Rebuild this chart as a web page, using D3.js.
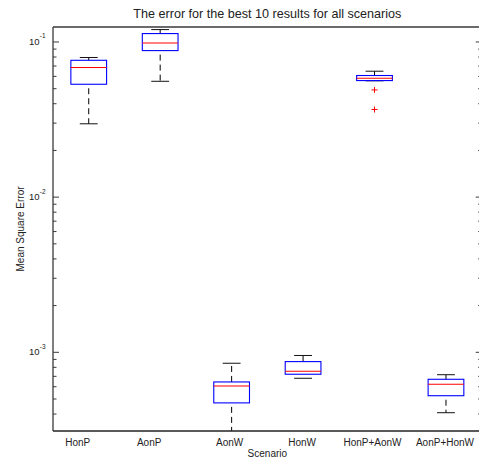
<!DOCTYPE html>
<html>
<head>
<meta charset="utf-8">
<script src="https://cdn.jsdelivr.net/npm/d3@7"></script>
<style>
  html, body { margin: 0; padding: 0; background: #fff; }
  svg { display: block; font-family: "Liberation Sans", Arial, Helvetica, sans-serif; }
</style>
</head>
<body>
<svg id="chart" width="479" height="459"></svg>
<script>
// ---- data ----
const categories   = ["HonP", "AonP", "AonW", "HonW", "HonP+AonW", "AonP+HonW"];
const lowerWhisker = [0.0297, 0.0558, 2.8e-4, 6.80e-4, 0.0562, 4.08e-4];
const q1Values     = [0.0534, 0.0880, 4.72e-4, 7.22e-4, 0.0564, 5.25e-4];
const medians      = [0.0684, 0.0985, 6.07e-4, 7.54e-4, 0.0584, 6.22e-4];
const q3Values     = [0.0762, 0.1133, 6.44e-4, 8.71e-4, 0.0608, 6.70e-4];
const upperWhisker = [0.0794, 0.1202, 8.50e-4, 9.54e-4, 0.0648, 7.17e-4];
const outliers     = [[], [], [], [], [0.0491, 0.0367], []];
const majorTickExponents = [-3, -2, -1];
const titleText = "The error for the best 10 results for all scenarios";
const xLabelText = "Scenario";
const yLabelText = "Mean Square Error";

// ---- layout ----
const W = 479, H = 459;
const plotLeft = 53, plotRight = 481.7, plotTop = 27, plotBottom = 431;
const axisColor = "#3a3a3a";

const svg = d3.select("#chart");
svg.append("rect").attr("width", W).attr("height", H).attr("fill", "#fff");

const x = d3.scaleLinear().domain([0.5, categories.length + 0.5]).range([plotLeft, plotRight]);
const y = d3.scaleLog().domain([3.11e-4, 0.1249]).range([plotBottom, plotTop]);

svg.append("defs").append("clipPath").attr("id", "plotclip")
  .append("rect").attr("x", plotLeft).attr("y", plotTop)
  .attr("width", plotRight - plotLeft).attr("height", plotBottom - plotTop);

// ---- ticks (log major + minor, inward on left and right) ----
const [d0, d1] = y.domain();
const ticks = [];
for (let e = Math.floor(Math.log10(d0)); e <= Math.ceil(Math.log10(d1)); e++) {
  for (let k = 1; k <= 9; k++) {
    const v = k * Math.pow(10, e);
    if (v >= d0 && v <= d1) ticks.push({ v, major: k === 1 });
  }
}
const tickG = svg.append("g");
ticks.forEach(t => {
  const len = t.major ? 6 : 3.5;
  const yy = y(t.v);
  tickG.append("line").attr("x1", plotLeft).attr("x2", plotLeft + len)
    .attr("y1", yy).attr("y2", yy).attr("stroke", axisColor).attr("stroke-width", 1);
  tickG.append("line").attr("x1", plotRight).attr("x2", plotRight - len)
    .attr("y1", yy).attr("y2", yy).attr("stroke", axisColor).attr("stroke-width", 1);
});

// major tick labels 10^n
majorTickExponents.forEach(e => {
  const yy = y(Math.pow(10, e));
  svg.append("text").attr("x", 39.5).attr("y", yy + 3.2)
    .attr("text-anchor", "end").attr("font-size", 9.5).attr("fill", "#222").text("10");
  svg.append("text").attr("x", 39.8).attr("y", yy - 3.6)
    .attr("text-anchor", "start").attr("font-size", 6.5).attr("fill", "#222").text(String(e));
});

// ---- boxes ----
const boxW = 0.5, capW = 0.25;
const g = svg.append("g").attr("clip-path", "url(#plotclip)");
categories.forEach((c, i) => {
  const cx = x(i + 1);
  const bw = x(i + 1 + boxW / 2) - cx;
  const cw = x(i + 1 + capW / 2) - cx;
  // whiskers (dashed)
  g.append("line").attr("x1", cx).attr("x2", cx)
    .attr("y1", y(q3Values[i])).attr("y2", y(upperWhisker[i]))
    .attr("stroke", "#000").attr("stroke-width", 1).attr("stroke-dasharray", "6,4");
  g.append("line").attr("x1", cx).attr("x2", cx)
    .attr("y1", y(q1Values[i])).attr("y2", y(lowerWhisker[i]))
    .attr("stroke", "#000").attr("stroke-width", 1).attr("stroke-dasharray", "6,4")
    .attr("stroke-dashoffset", -4);
  // caps
  [upperWhisker[i], lowerWhisker[i]].forEach(v => {
    g.append("line").attr("x1", cx - cw).attr("x2", cx + cw)
      .attr("y1", y(v)).attr("y2", y(v)).attr("stroke", "#111").attr("stroke-width", 1);
  });
  // box
  g.append("rect").attr("x", cx - bw).attr("width", 2 * bw)
    .attr("y", y(q3Values[i])).attr("height", y(q1Values[i]) - y(q3Values[i]))
    .attr("fill", "none").attr("stroke", "#0000ff").attr("stroke-width", 1.1);
  // median
  g.append("line").attr("x1", cx - bw).attr("x2", cx + bw)
    .attr("y1", y(medians[i])).attr("y2", y(medians[i]))
    .attr("stroke", "#ff0000").attr("stroke-width", 1.1);
  // outliers
  outliers[i].forEach(v => {
    const oy = y(v);
    g.append("line").attr("x1", cx - 3).attr("x2", cx + 3).attr("y1", oy).attr("y2", oy)
      .attr("stroke", "#ff0000").attr("stroke-width", 1);
    g.append("line").attr("x1", cx).attr("x2", cx).attr("y1", oy - 3).attr("y2", oy + 3)
      .attr("stroke", "#ff0000").attr("stroke-width", 1);
  });
});

// ---- axes frame ----
svg.append("line").attr("x1", plotLeft).attr("x2", plotLeft).attr("y1", plotTop).attr("y2", plotBottom)
  .attr("stroke", axisColor).attr("stroke-width", 1.3);
svg.append("line").attr("x1", plotLeft).attr("x2", plotRight).attr("y1", plotTop).attr("y2", plotTop)
  .attr("stroke", axisColor).attr("stroke-width", 1.3);
svg.append("line").attr("x1", plotLeft).attr("x2", plotRight).attr("y1", plotBottom).attr("y2", plotBottom)
  .attr("stroke", "#222").attr("stroke-width", 1.3);
svg.append("line").attr("x1", plotRight).attr("x2", plotRight).attr("y1", plotTop).attr("y2", plotBottom)
  .attr("stroke", axisColor).attr("stroke-width", 1.3);

// ---- category labels ----
const labelDx = [-11, -11, -2, -1, -2, -1];
categories.forEach((c, i) => {
  svg.append("text").attr("x", x(i + 1) + labelDx[i]).attr("y", 445.5)
    .attr("text-anchor", "middle").attr("font-size", 10).attr("fill", "#222").text(c);
});

// ---- titles ----
svg.append("text").attr("x", (plotLeft + plotRight) / 2).attr("y", 18.3)
  .attr("text-anchor", "middle").attr("font-size", 12.6).attr("fill", "#222").text(titleText);
svg.append("text").attr("x", (plotLeft + plotRight) / 2).attr("y", 456.5)
  .attr("text-anchor", "middle").attr("font-size", 10).attr("fill", "#222").text(xLabelText);
svg.append("text")
  .attr("transform", `translate(23.5, ${(plotTop + plotBottom) / 2}) rotate(-90)`)
  .attr("text-anchor", "middle").attr("font-size", 10).attr("fill", "#222").text(yLabelText);
</script>
</body>
</html>
